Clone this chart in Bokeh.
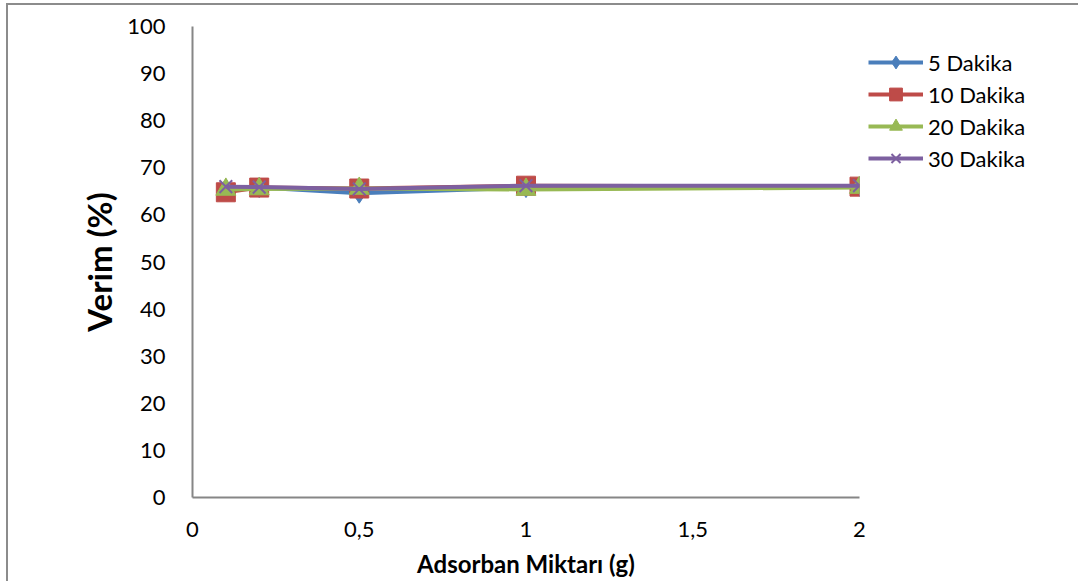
from bokeh.plotting import figure
from bokeh.models import FixedTicker, Legend, LegendItem, Range1d
from bokeh.embed import file_html
from bokeh.resources import INLINE

x_vals = [0.1, 0.2, 0.5, 1, 2]
s5 = [65.5, 65.8, 64.6, 65.8, 66.0]
s10 = [64.8, 65.8, 65.6, 66.2, 66.0]
s20 = [65.4, 65.5, 65.6, 65.4, 65.8]
s30 = [66.0, 65.9, 65.5, 66.2, 66.2]
series_names = ["5 Dakika", "10 Dakika", "20 Dakika", "30 Dakika"]
x_ticks = [0, 0.5, 1, 1.5, 2]
x_tick_labels = ["0", "0,5", "1", "1,5", "2"]
y_ticks = [0, 10, 20, 30, 40, 50, 60, 70, 80, 90, 100]

FONT = "Lato"
p = figure(output_backend="svg", toolbar_location=None,
           frame_width=667, frame_height=471,
           min_border_left=184, min_border_right=215,
           min_border_top=21, min_border_bottom=84,
           x_range=Range1d(0, 2), y_range=Range1d(0, 100))
p.styles = {"border-left": "2px solid #8c8c8c", "border-top": "2px solid #8c8c8c",
            "margin-left": "6px", "margin-top": "3px"}
p.outline_line_color = None
p.grid.visible = False

for ax in (p.xaxis[0], p.yaxis[0]):
    ax.axis_line_color = "#868686"
    ax.axis_line_width = 2
    ax.major_tick_line_color = None
    ax.minor_tick_line_color = None
    ax.major_label_text_font = FONT
    ax.major_label_text_font_size = "22px"
    ax.major_label_text_color = "#000000"
    ax.axis_label_text_font = FONT
    ax.axis_label_text_font_style = "bold"
    ax.axis_label_text_color = "#000000"

p.xaxis.ticker = FixedTicker(ticks=x_ticks)
p.xaxis.major_label_overrides = {t: l for t, l in zip(x_ticks, x_tick_labels)}
p.xaxis.major_label_standoff = 18
p.xaxis.axis_label = "Adsorban Miktarı (g)"
p.xaxis.axis_label_text_font_size = "24px"
p.xaxis.axis_label_standoff = 9

p.yaxis.ticker = FixedTicker(ticks=y_ticks)
p.yaxis.major_label_standoff = 21
p.yaxis.axis_label = "Verim (%)"
p.yaxis.axis_label_text_font_size = "33px"
p.yaxis.axis_label_standoff = 5

colors = ["#4A7EBB", "#BE4B48", "#98B954", "#7D60A0"]
items = []

l1 = p.line(x_vals, s5, line_color=colors[0], line_width=4)
m1 = p.scatter(x_vals, s5, marker="diamond", size=20, fill_color=colors[0], line_color=colors[0])
items.append(LegendItem(label=series_names[0], renderers=[l1, m1]))

l2 = p.line(x_vals, s10, line_color=colors[1], line_width=4)
m2 = p.scatter(x_vals, s10, marker="square", size=19, fill_color=colors[1], line_color=colors[1])
items.append(LegendItem(label=series_names[1], renderers=[l2, m2]))

l3 = p.line(x_vals, s20, line_color=colors[2], line_width=4)
m3 = p.scatter(x_vals, s20, marker="triangle", size=20, fill_color=colors[2], line_color=colors[2])
items.append(LegendItem(label=series_names[2], renderers=[l3, m3]))

l4 = p.line(x_vals, s30, line_color=colors[3], line_width=4)
m4 = p.scatter(x_vals, s30, marker="x", size=18, line_color=colors[3], line_width=2)
items.append(LegendItem(label=series_names[3], renderers=[l4, m4]))

legend = Legend(items=items, location=(9, 323))
legend.border_line_color = None
legend.background_fill_alpha = 0
legend.padding = 0
legend.margin = 0
legend.spacing = 0
legend.glyph_width = 55
legend.glyph_height = 32
legend.label_height = 32
legend.label_standoff = 5
legend.label_text_font = FONT
legend.label_text_font_size = "22px"
legend.label_text_color = "#000000"
p.add_layout(legend, "right")

open("out.html", "w").write(file_html(p, INLINE))
